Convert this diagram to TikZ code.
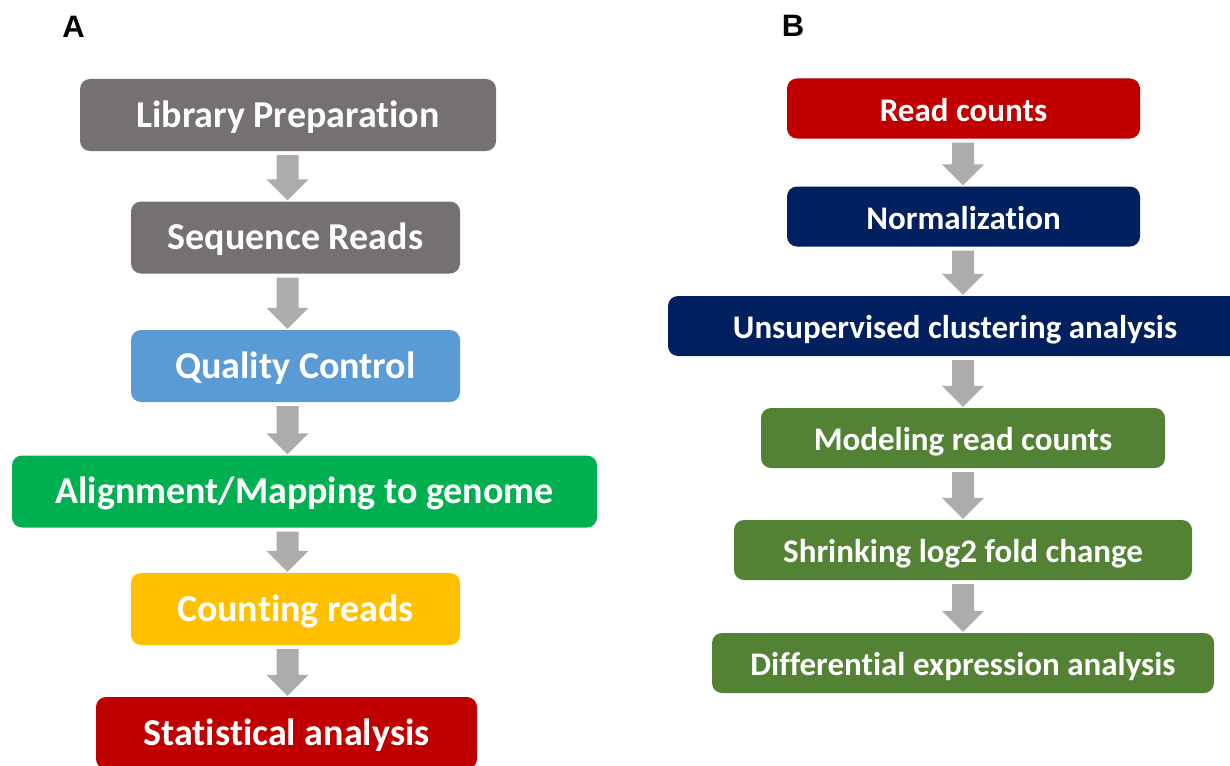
\documentclass[tikz,border=0pt]{standalone}
\usepackage{fontspec}
\setmainfont{Carlito}[Ligatures=NoCommon]
\newfontfamily\panelfont{Liberation Sans}
\usetikzlibrary{calc}
\definecolor{boxgray}{HTML}{767171}
\definecolor{arrowgray}{HTML}{AEABAB}
\definecolor{qcblue}{HTML}{5B9BD5}
\definecolor{mapgreen}{HTML}{00B050}
\definecolor{countyellow}{HTML}{FFC000}
\definecolor{statred}{HTML}{C00000}
\definecolor{deepnavy}{HTML}{002060}
\definecolor{degreen}{HTML}{548235}
\def\flowarrow(#1)(#2){\fill[arrowgray] ($(#1)+(-11,4)$) -- ($(#1)+(11,4)$) -- ($(#2)+(11,-22)$) -- ($(#2)+(21,-22)$) -- ($(#2)+(0,-1)$) -- ($(#2)+(-21,-22)$) -- ($(#2)+(-11,-22)$) -- cycle;}

\begin{document}
\begin{tikzpicture}[x=1pt,y=-1pt,
		box/.style={rounded corners=10pt, inner sep=0pt, text=white},
		boxA/.style={box, font=\fontsize{38}{44}\selectfont\bfseries, text height=24.5pt, text depth=0pt, minimum height=72pt},
		boxB/.style={box, font=\fontsize{33}{40}\selectfont\bfseries, text height=25.3pt, text depth=0pt, minimum height=60pt},
		panel/.style={font=\panelfont\bfseries\fontsize{31}{36}\selectfont, inner sep=0pt}]
		%%%%% START %%%%%
		\clip (0, 0) rectangle (1230, 765);
		
		\node[panel] (labA) at (73.5, 26.5) {A};
		\node[panel] (labB) at (793, 26) {B};
		
		\node[boxA, fill=boxgray, minimum width=416pt] (lib) at (288, 115) {Library Preparation};
		\node[boxA, fill=boxgray, minimum width=329pt] (seq) at (295.5, 237.5) {Sequence Reads};
		\node[boxA, fill=qcblue, minimum width=329pt] (qc) at (295.5, 366) {Quality Control};
		\node[boxA, fill=mapgreen, minimum width=585pt] (map) at (304.5, 491.5) {Alignment/Mapping to genome};
		\node[boxA, fill=countyellow, minimum width=329pt] (cnt) at (295.5, 609) {Counting reads};
		\node[boxA, fill=statred, minimum width=381pt] (stat) at (286.5, 733) {Statistical analysis};
		
		\node[boxB, fill=statred, minimum width=353pt] (rc) at (963.5, 108.5) {Read counts};
		\node[boxB, fill=deepnavy, minimum width=353pt] (norm) at (963.5, 216.5) {Normalization};
		\node[boxB, fill=deepnavy, minimum width=574pt] (clust) at (955, 326) {Unsupervised clustering analysis};
		\node[boxB, fill=degreen, minimum width=404pt] (model) at (963, 438) {Modeling read counts};
		\node[boxB, fill=degreen, minimum width=458pt] (shrink) at (963, 550) {Shrinking log2 fold change};
		\node[boxB, fill=degreen, minimum width=502pt] (dea) at (963, 663) {Differential expression analysis};
		
		\coordinate (acol) at (287.5, 0);
		\coordinate (bcol) at (963, 0);
		
		\flowarrow(lib.south -| acol)(seq.north -| acol)
		\flowarrow(seq.south -| acol)(qc.north -| acol)
		\flowarrow(qc.south -| acol)(map.north -| acol)
		\flowarrow(map.south -| acol)(cnt.north -| acol)
		\flowarrow(cnt.south -| acol)(stat.north -| acol)
		
		\flowarrow(rc.south -| bcol)(norm.north -| bcol)
		\flowarrow(norm.south -| bcol)(clust.north -| bcol)
		\flowarrow(clust.south -| bcol)(model.north -| bcol)
		\flowarrow(model.south -| bcol)(shrink.north -| bcol)
		\flowarrow(shrink.south -| bcol)(dea.north -| bcol)
		%%%%% END %%%%%
\end{tikzpicture}
\end{document}
